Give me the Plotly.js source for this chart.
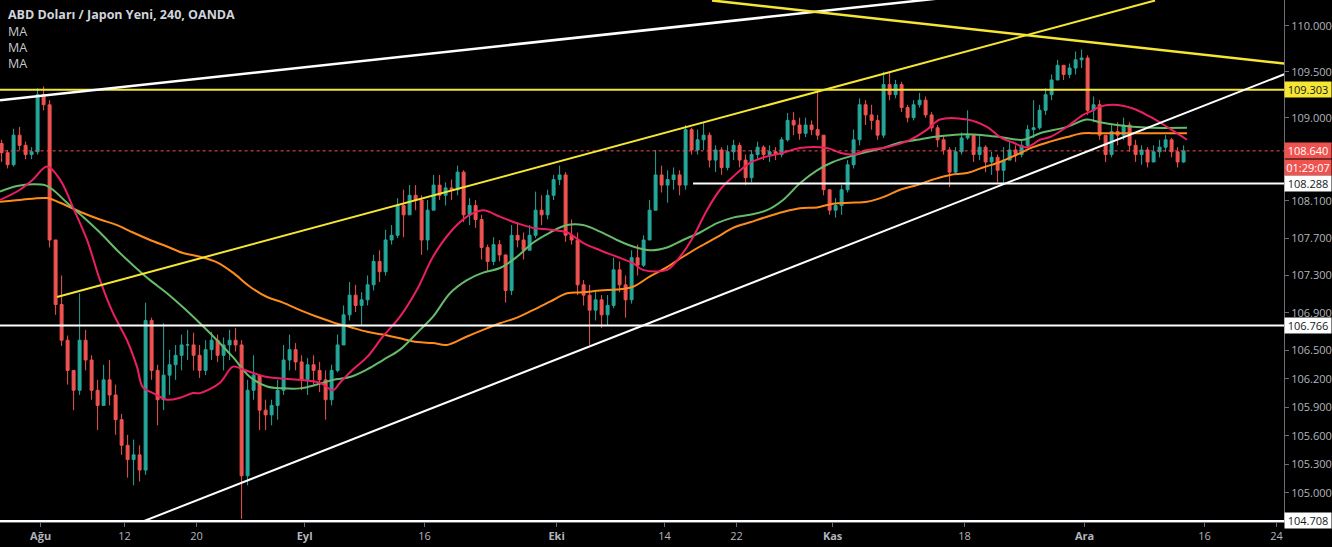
<!DOCTYPE html>
<html><head><meta charset="utf-8">
<script src="https://cdn.plot.ly/plotly-3.0.1.min.js"></script>
<style>html,body{margin:0;padding:0;background:#000;overflow:hidden}#chart{width:1332px;height:547px}</style>
</head><body><div id="chart"></div>
<script>
// x unit = trading day index (0 = 1 Aug 2019); each bar = half a trading day
const barStart = -3.25;
const barStep = 0.5;
const firstOpen = 108.72;
const closeP = [108.62,108.49,108.81,108.70,108.60,108.63,109.25,109.14,107.68,106.99,
106.61,106.29,106.08,106.61,106.40,106.08,105.92,106.19,106.03,105.77,
105.50,105.35,105.40,105.24,106.82,106.29,105.98,106.24,106.35,106.45,
106.56,106.56,106.45,106.29,106.51,106.61,106.45,106.56,106.61,106.56,
105.18,106.08,106.24,105.87,105.82,105.92,106.08,106.40,106.51,106.38,
106.19,106.35,106.29,106.19,105.98,106.29,106.56,106.88,107.09,106.98,
107.04,107.20,107.45,107.34,107.68,107.73,108.05,107.95,108.16,108.11,
107.68,108.00,108.27,108.16,108.24,108.22,108.41,107.95,108.05,107.90,
107.60,107.45,107.63,107.52,107.14,107.73,107.68,107.57,107.73,108.00,
107.95,108.16,108.33,108.38,107.73,107.68,107.20,107.09,106.93,107.04,
106.88,106.98,107.36,107.20,107.04,107.49,107.41,107.68,108.00,108.38,
108.27,108.33,108.38,108.27,108.87,108.65,108.76,108.81,108.54,108.65,
108.46,108.63,108.70,108.54,108.35,108.60,108.68,108.60,108.63,108.60,
108.76,108.97,108.92,108.83,108.92,108.87,108.81,108.22,108.00,108.05,
108.22,108.49,108.76,109.14,109.03,108.97,108.81,109.36,109.25,109.36,
109.11,109.00,109.14,109.19,109.03,108.89,108.76,108.65,108.41,108.63,
108.78,108.81,108.60,108.68,108.52,108.57,108.43,108.54,108.65,108.60,
108.70,108.87,108.89,109.08,109.25,109.41,109.57,109.47,109.54,109.63,
109.65,109.08,109.14,108.81,108.60,108.85,108.81,108.92,108.70,108.60,
108.65,108.52,108.63,108.68,108.76,108.63,108.52,108.64];
const highP = [108.76,108.65,108.88,108.90,108.74,108.68,109.32,109.34,109.19,107.68,
107.30,106.66,106.29,107.11,106.72,106.45,106.19,106.35,106.40,106.14,
105.83,105.61,105.56,105.50,107.01,106.85,106.35,106.79,106.51,106.56,
106.67,106.72,106.69,106.56,106.61,106.70,106.67,106.64,106.72,106.74,
106.61,106.19,106.45,106.24,105.98,105.98,106.19,106.56,106.67,106.58,
106.45,106.42,106.45,106.38,106.29,106.35,106.67,106.98,107.23,107.20,
107.12,107.30,107.52,107.57,107.79,107.84,108.13,108.22,108.27,108.27,
108.16,108.11,108.38,108.38,108.30,108.33,108.48,108.43,108.13,108.11,
107.95,107.63,107.71,107.68,107.52,107.84,107.87,107.76,107.84,108.20,
108.16,108.22,108.38,108.48,108.41,107.90,107.76,107.25,107.20,107.14,
107.09,107.09,107.49,107.45,107.30,107.57,107.63,107.73,108.11,108.65,
108.48,108.43,108.46,108.43,108.92,108.89,108.87,108.95,108.84,108.70,
108.68,108.70,108.76,108.73,108.60,108.65,108.74,108.70,108.70,108.68,
108.79,109.05,109.06,109.00,109.00,108.97,109.30,108.81,108.22,108.13,
108.27,108.54,108.87,109.21,109.19,109.14,109.03,109.50,109.50,109.41,
109.39,109.14,109.19,109.27,109.23,109.06,108.92,108.81,108.68,108.68,
108.84,109.08,108.81,108.81,108.70,108.63,108.60,108.68,108.74,108.70,
108.76,108.92,109.19,109.14,109.32,109.47,109.63,109.57,109.59,109.72,
109.74,109.68,109.23,109.19,108.81,108.92,108.95,109.00,108.95,108.76,
108.70,108.68,108.70,108.76,108.81,108.78,108.68,108.70];
const lowP = [108.52,108.45,108.47,108.65,108.55,108.55,108.60,109.08,107.60,106.88,
106.55,106.14,105.87,106.03,106.29,105.98,105.66,105.92,105.92,105.61,
105.40,105.16,105.08,105.12,105.19,106.19,105.71,105.87,106.03,106.19,
106.29,106.40,106.29,106.21,106.24,106.40,106.38,106.29,106.40,106.49,
104.73,105.08,105.98,105.66,105.66,105.71,105.77,106.03,106.29,106.29,
106.08,106.03,106.14,106.06,105.77,105.92,106.27,106.56,106.82,106.91,
106.77,106.98,107.14,107.23,107.30,107.63,107.70,107.71,107.95,108.00,
107.52,107.57,108.00,108.11,108.05,108.11,108.16,107.87,107.84,107.81,
107.47,107.34,107.41,107.45,107.01,107.09,107.60,107.47,107.57,107.70,
107.84,107.90,108.11,108.27,107.66,107.63,107.09,106.98,106.56,106.82,
106.74,106.77,106.95,107.12,106.85,107.00,107.30,107.39,107.68,108.00,
108.19,108.08,108.22,108.16,108.22,108.60,108.60,108.65,108.46,108.41,
108.38,108.43,108.54,108.46,108.27,108.30,108.54,108.54,108.52,108.54,
108.57,108.74,108.81,108.76,108.79,108.81,108.76,108.16,107.95,107.92,
107.95,108.19,108.45,108.70,108.92,108.87,108.76,108.78,109.19,109.21,
109.06,108.95,108.97,109.11,109.00,108.85,108.68,108.60,108.25,108.38,
108.60,108.76,108.52,108.54,108.41,108.38,108.30,108.29,108.54,108.52,
108.57,108.68,108.78,108.87,109.03,109.19,109.41,109.41,109.43,109.47,
109.54,109.03,108.95,108.76,108.52,108.57,108.70,108.76,108.63,108.52,
108.49,108.46,108.52,108.57,108.63,108.57,108.46,108.51];

// moving averages
const maFastX = [-3.38,-1.72,-0.63,0.53,1.62,2.70,3.87,4.95,6.03,7.20,8.03,8.53,9.37,10.53,11.62,12.70,13.28,14.95,16.03,16.87,18.87,21.62,23.28,24.37,24.95,26.03,27.20,28.53,29.95,31.37,32.70,34.12,35.53,36.87,38.28,39.70,41.03,42.45,43.87,45.20,46.62,48.03,49.37,50.20,52.20,53.28,54.37,55.53,56.62,57.70,59.12,60.53,61.87,63.28,65.53,66.62,67.70,68.87,70.53,72.45,73.87,74.95,77.20,78.87,79.95,81.03,82.20,83.28,84.12,85.53,86.87,87.70,88.28,89.37,91.03,92.45,93.87,94.95,95.53];
const maFastY = [108.11,108.22,108.33,108.47,108.33,108.03,107.68,107.25,106.90,106.61,106.33,106.11,106.05,105.98,106.00,106.05,106.05,106.16,106.33,106.30,106.22,106.19,106.16,106.08,106.16,106.30,106.43,106.65,106.86,107.15,107.50,107.76,107.93,108.00,107.93,107.86,107.81,107.79,107.76,107.65,107.57,107.50,107.43,107.36,107.36,107.50,107.71,108.00,108.22,108.36,108.51,108.58,108.62,108.67,108.67,108.62,108.60,108.65,108.68,108.76,108.87,108.98,108.98,108.90,108.79,108.73,108.68,108.76,108.79,108.90,109.03,109.08,109.12,109.14,109.10,109.01,108.90,108.81,108.76];
const maMidX = [-3.38,-1.97,-0.63,0.37,1.03,2.20,3.53,4.95,6.37,7.70,9.12,10.53,11.87,13.28,14.70,16.03,17.45,18.87,20.20,21.62,23.03,24.37,25.78,27.20,28.53,29.95,31.62,32.70,34.12,35.53,36.87,38.28,39.70,41.03,42.45,43.87,45.20,46.62,48.03,49.37,50.78,52.20,53.53,54.95,56.37,57.70,59.12,60.53,61.87,63.28,64.70,66.03,67.45,68.87,70.20,71.62,73.03,74.37,75.78,77.20,78.53,79.95,81.87,83.28,85.53,87.20,88.28,89.70,91.03,92.45,95.53];
const maMidY = [108.20,108.26,108.28,108.27,108.22,108.08,107.93,107.76,107.57,107.41,107.25,107.11,106.96,106.79,106.61,106.43,106.22,106.12,106.10,106.10,106.14,106.19,106.22,106.30,106.40,106.51,106.72,106.86,107.11,107.25,107.33,107.38,107.50,107.65,107.76,107.84,107.84,107.77,107.68,107.61,107.57,107.60,107.68,107.76,107.86,107.92,107.95,108.00,108.11,108.29,108.43,108.52,108.58,108.63,108.67,108.73,108.76,108.79,108.81,108.82,108.81,108.79,108.76,108.83,108.90,108.98,108.95,108.92,108.90,108.89,108.89];
const maSlowX = [-3.38,-1.72,0.53,1.62,3.53,4.95,6.37,7.70,9.12,10.53,11.87,13.28,14.70,16.03,17.45,18.87,20.20,21.62,23.03,24.37,25.78,27.20,28.53,29.95,31.37,32.70,33.87,35.53,36.87,38.28,39.70,41.03,42.45,43.87,45.20,46.62,48.03,49.37,50.78,52.20,53.53,54.95,56.37,57.70,59.12,60.53,61.87,63.28,64.70,66.03,67.45,68.87,70.20,71.62,73.03,74.37,75.78,77.20,78.53,79.95,81.37,82.70,84.12,85.53,86.87,88.28,95.53];
const maSlowY = [108.09,108.11,108.13,108.08,107.97,107.90,107.84,107.76,107.68,107.61,107.54,107.50,107.44,107.33,107.18,107.07,107.01,106.93,106.86,106.80,106.75,106.70,106.67,106.63,106.59,106.58,106.56,106.65,106.72,106.79,106.85,106.93,107.02,107.11,107.12,107.14,107.15,107.18,107.29,107.39,107.50,107.61,107.71,107.81,107.87,107.93,107.98,108.02,108.03,108.07,108.08,108.09,108.14,108.22,108.27,108.33,108.38,108.40,108.46,108.52,108.60,108.68,108.74,108.79,108.83,108.83,108.83];

// drawn trend lines and levels
const whiteTopX = [-3.38, 74.70], whiteTopY = [109.19, 110.30];
const yellowTopX = [55.95, 104.95], yellowTopY = [110.28, 109.57];
const yellowChanX = [1.37, 92.87], yellowChanY = [107.07, 110.28];
const whiteChanX = [7.45, 104.95], whiteChanY = [104.65, 109.54];
const yellowLevel = 109.303;
const whiteLevels = [106.766, 104.708];
const supportLevel = 108.288, supportFrom = 54.37;
const lastPrice = 108.640;
const countdown = '01:29:07';

const tickDays = [0,7,13,22,32,43,52,58,66,77,87,97,103];
const tickLabels = ['<b>Ağu</b>','12','20','<b>Eyl</b>','16','<b>Eki</b>','14','22','<b>Kas</b>','18','<b>Ara</b>','16','24'];
const priceTicks = [105,105.3,105.6,105.9,106.2,106.5,106.9,107.3,107.7,108.1,109,109.5,110];

const UP='#26a69a', DN='#ef5350';
const barX = closeP.map((_, i) => barStart + i * barStep);
const openP = closeP.map((c, i) => i === 0 ? firstOpen : closeP[i-1]);
const X0 = -3.3833, X1 = 103.617;
const FAR = [-10, 120];

const traces = [
  {type:'candlestick', x:barX, open:openP, high:highP, low:lowP, close:closeP,
   increasing:{line:{color:UP,width:1},fillcolor:UP},
   decreasing:{line:{color:DN,width:1},fillcolor:DN},
   whiskerwidth:0, hoverinfo:'skip', showlegend:false},
  {type:'scatter',mode:'lines',x:maSlowX,y:maSlowY,line:{color:'#ff8c1a',width:2,shape:'spline'},hoverinfo:'skip'},
  {type:'scatter',mode:'lines',x:maMidX,y:maMidY,line:{color:'#66bb6a',width:2,shape:'spline'},hoverinfo:'skip'},
  {type:'scatter',mode:'lines',x:maFastX,y:maFastY,line:{color:'#ec1e63',width:2,shape:'spline'},hoverinfo:'skip'},
  {type:'scatter',mode:'lines',x:FAR,y:[lastPrice,lastPrice],line:{color:DN,width:1,dash:'dot'},hoverinfo:'skip'},
  {type:'scatter',mode:'lines',x:FAR,y:[yellowLevel,yellowLevel],line:{color:'#f5e633',width:2},hoverinfo:'skip'},
  {type:'scatter',mode:'lines',x:FAR,y:[whiteLevels[0],whiteLevels[0]],line:{color:'#ffffff',width:2},hoverinfo:'skip'},
  {type:'scatter',mode:'lines',x:FAR,y:[whiteLevels[1],whiteLevels[1]],line:{color:'#ffffff',width:2},hoverinfo:'skip'},
  {type:'scatter',mode:'lines',x:[supportFrom,120],y:[supportLevel,supportLevel],line:{color:'#ffffff',width:2},hoverinfo:'skip'},
  {type:'scatter',mode:'lines',x:whiteTopX,y:whiteTopY,line:{color:'#ffffff',width:2.5},hoverinfo:'skip'},
  {type:'scatter',mode:'lines',x:yellowTopX,y:yellowTopY,line:{color:'#f5e633',width:2.5},hoverinfo:'skip'},
  {type:'scatter',mode:'lines',x:yellowChanX,y:yellowChanY,line:{color:'#f5e633',width:2},hoverinfo:'skip'},
  {type:'scatter',mode:'lines',x:whiteChanX,y:whiteChanY,line:{color:'#ffffff',width:2},hoverinfo:'skip'}
];

const FONT = 'Open Sans, Noto Sans, sans-serif';
function priceTag(v, bg, fg, text, shift){
  return {xref:'paper', yref:'y', x:1, y:Math.log10(v), yshift:shift||0, xanchor:'left', yanchor:'middle',
    text:text || v.toFixed(3), showarrow:false, bgcolor:bg, width:44, height:13, borderpad:1,
    font:{family:FONT,size:11,color:fg}};
}
const annotations = [
  {xref:'paper',yref:'paper',x:0,y:1,xshift:6,yshift:-14,xanchor:'left',yanchor:'middle',showarrow:false,
   text:'<b>ABD Doları / Japon Yeni, 240, OANDA</b>',font:{family:FONT,size:12.5,color:'#d1d4dc'}},
  {xref:'paper',yref:'paper',x:0,y:1,xshift:6,yshift:-31,xanchor:'left',yanchor:'middle',showarrow:false,
   text:'MA',font:{family:FONT,size:12.5,color:'#c8cad0'}},
  {xref:'paper',yref:'paper',x:0,y:1,xshift:6,yshift:-47,xanchor:'left',yanchor:'middle',showarrow:false,
   text:'MA',font:{family:FONT,size:12.5,color:'#c8cad0'}},
  {xref:'paper',yref:'paper',x:0,y:1,xshift:6,yshift:-63,xanchor:'left',yanchor:'middle',showarrow:false,
   text:'MA',font:{family:FONT,size:12.5,color:'#c8cad0'}},
  priceTag(yellowLevel,'#f5e633','#131722'),
  priceTag(lastPrice,'#ef5350','#ffffff'),
  priceTag(lastPrice,'#ef5350','#ffffff',countdown,-17),
  priceTag(supportLevel,'#ffffff','#131722'),
  priceTag(whiteLevels[0],'#ffffff','#131722'),
  priceTag(whiteLevels[1],'#ffffff','#131722')
];

const layout = {
  width:1332, height:547, paper_bgcolor:'#000', plot_bgcolor:'#000',
  margin:{l:0,r:48,t:0,b:25}, showlegend:false, hovermode:false,
  font:{family:FONT,color:'#b2b5be',size:11},
  xaxis:{range:[X0,X1], rangeslider:{visible:false}, showgrid:false, zeroline:false,
    tickmode:'array', tickvals:tickDays, ticktext:tickLabels, ticks:'outside', ticklen:4,
    tickcolor:'#6a6d78', showline:true, linecolor:'#6a6d78', linewidth:1,
    tickfont:{family:FONT,size:11,color:'#b2b5be'}},
  yaxis:{type:'log', range:[Math.log10(104.697), Math.log10(110.285)], side:'right',
    showgrid:false, zeroline:false, tickmode:'array', tickvals:priceTicks,
    ticktext:priceTicks.map(v=>v.toFixed(3)), ticks:'outside', ticklen:4, tickcolor:'#6a6d78',
    showline:true, linecolor:'#6a6d78', linewidth:1,
    tickfont:{family:FONT,size:11,color:'#b2b5be'}},
  annotations:annotations
};
Plotly.newPlot('chart', traces, layout, {staticPlot:true, displayModeBar:false});
</script></body></html>
